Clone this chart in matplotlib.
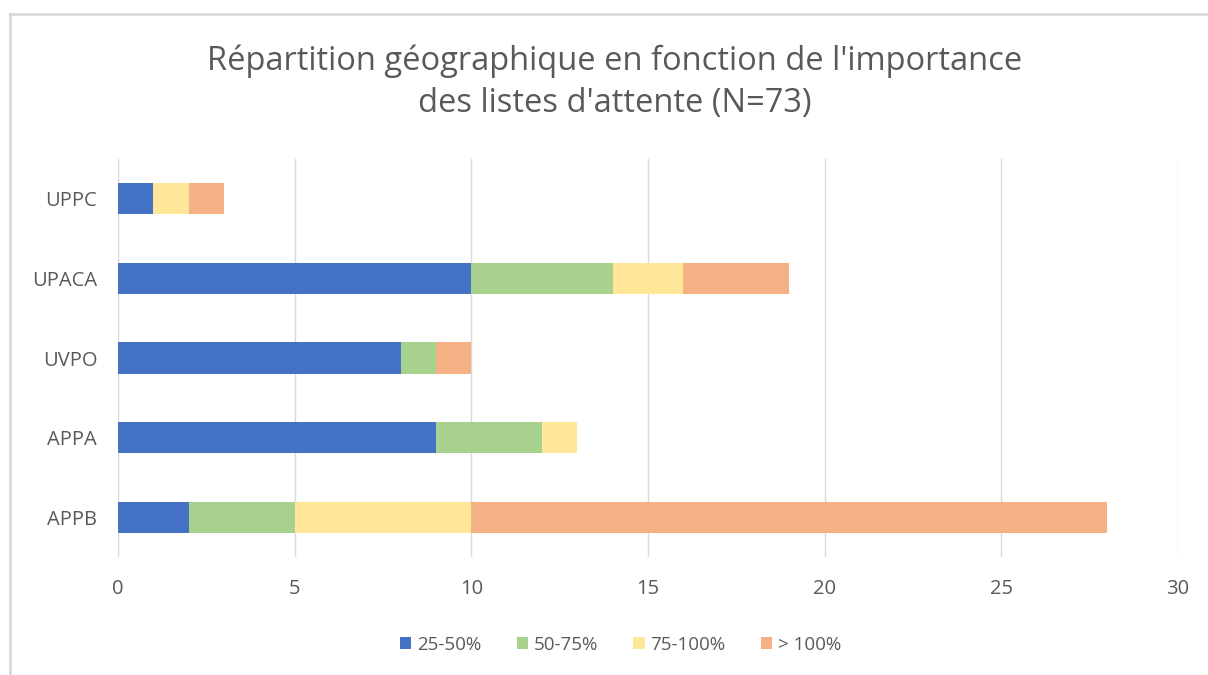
import numpy as np
import matplotlib.pyplot as plt
from matplotlib.lines import Line2D

# données
categories = ['UPPC', 'UPACA', 'UVPO', 'APPA', 'APPB']
series = ['25-50%', '50-75%', '75-100%', '> 100%']
v_25_50 = [1, 10, 8, 9, 2]
v_50_75 = [0, 4, 1, 3, 3]
v_75_100 = [1, 2, 0, 1, 5]
v_100 = [1, 3, 1, 0, 18]
colors = ['#4472C4', '#A9D18E', '#FFE699', '#F4B183']

plt.rcParams['font.family'] = ['Open Sans', 'DejaVu Sans']

fig = plt.figure(figsize=(12.08, 6.75), dpi=100)
ax = fig.add_axes([0.0977, 0.1748, 0.8775, 0.5896])

y = np.arange(len(categories))
left = np.zeros(len(categories))
for name, vals, c in zip(series, [v_25_50, v_50_75, v_75_100, v_100], colors):
    ax.barh(y, vals, left=left, height=0.39, color=c, label=name, zorder=3)
    left += np.array(vals)

ax.set_ylim(len(categories) - 0.5, -0.5)
ax.set_yticks(y)
ax.set_yticklabels(categories)
ax.set_xlim(0, 30)
ax.set_xticks(range(0, 31, 5))
ax.grid(axis='x', color='#d9d9d9', linewidth=1, zorder=0)
for s in ax.spines.values():
    s.set_visible(False)
ax.tick_params(length=0, labelsize=14.5, labelcolor='#595959')
ax.tick_params(axis='x', pad=16)
ax.tick_params(axis='y', pad=15)

fig.text(0.509, 0.878, "Répartition géographique en fonction de l'importance\ndes listes d'attente (N=73)",
         ha='center', va='center', fontsize=23.5, color='#595959', linespacing=1.38)

ax.legend(loc='center', bbox_to_anchor=(0.474, -0.22), ncol=4, frameon=False,
          fontsize=13.5, labelcolor='#595959', handlelength=0.6, handleheight=0.6,
          handletextpad=0.3, columnspacing=1.9)

# cadre
fig.add_artist(Line2D([10 / 1208, 10 / 1208], [0, 1 - 14 / 675], color='#d9d9d9', lw=2, transform=fig.transFigure))
fig.add_artist(Line2D([10 / 1208, 1], [1 - 14 / 675, 1 - 14 / 675], color='#d9d9d9', lw=2, transform=fig.transFigure))

fig.savefig('out.png', dpi=100)
